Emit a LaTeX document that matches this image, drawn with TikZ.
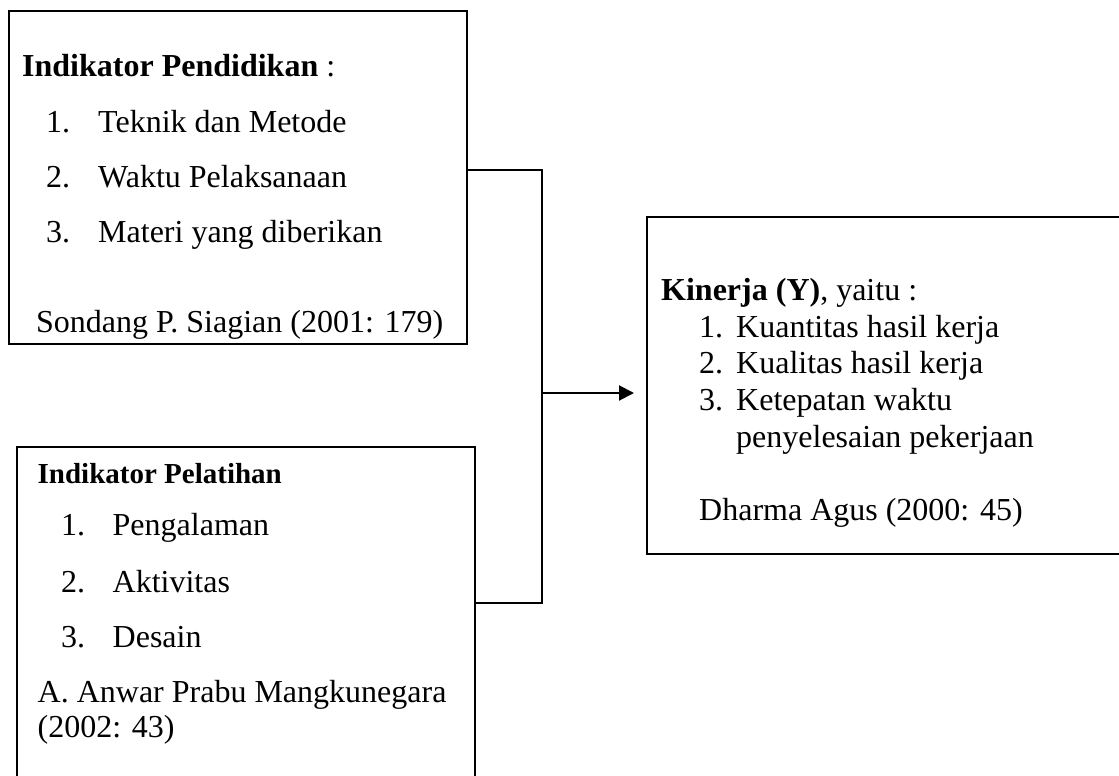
\documentclass[tikz,border=0pt]{standalone}
\usepackage{fontspec}
\setmainfont{Liberation Serif}
\usetikzlibrary{arrows.meta}
\tikzset{
  boxframe/.style={draw, line width=2pt, inner sep=0pt, anchor=north west},
  txt/.style={anchor=base west, inner sep=0pt, font=\fontsize{32}{38}\selectfont},
  headtwo/.style={anchor=base west, inner sep=0pt, font=\fontsize{29}{34}\selectfont\bfseries},
  conn/.style={line width=2pt},
}
\begin{document}
\begin{tikzpicture}[x=1pt,y=-1pt]
\useasboundingbox (0,0) rectangle (1119,776);
\clip (0,0) rectangle (1119,776);
% boxes
\node[boxframe, minimum width=458pt, minimum height=333pt] (box1) at (8,10) {};
\node[boxframe, minimum width=458pt, minimum height=400pt] (box2) at (16,446) {};
\node[boxframe, minimum width=600pt, minimum height=337pt] (box3) at (646,216) {};
% box 1 text
\node[txt] (h1) at (22,77) {\textbf{Indikator Pendidikan} :};
\node[txt] (n11) at (46,132) {1.};
\node[txt] (t11) at (98,132) {Teknik dan Metode};
\node[txt] (n12) at (46,187) {2.};
\node[txt] (t12) at (98,187) {Waktu Pelaksanaan};
\node[txt] (n13) at (46,242) {3.};
\node[txt] (t13) at (98,242) {Materi yang diberikan};
\node[txt] (s1) at (36,332) {Sondang P. Siagian (2001: 179)};
% box 2 text
\node[headtwo] (h2) at (37.5,483) {Indikator Pelatihan};
\node[txt] (n21) at (61,535) {1.};
\node[txt] (t21) at (112.5,535) {Pengalaman};
\node[txt] (n22) at (61,592) {2.};
\node[txt] (t22) at (112.5,592) {Aktivitas};
\node[txt] (n23) at (61,647) {3.};
\node[txt] (t23) at (112.5,647) {Desain};
\node[txt] (s2a) at (37.5,702) {A. Anwar Prabu Mangkunegara};
\node[txt] (s2b) at (37.5,737) {(2002: 43)};
% box 3 text
\node[txt] (h3) at (661,300) {\textbf{Kinerja (Y)}, yaitu :};
\node[txt] (n31) at (699,337) {1.};
\node[txt] (t31) at (736,337) {Kuantitas hasil kerja};
\node[txt] (n32) at (699,373) {2.};
\node[txt] (t32) at (736,373) {Kualitas hasil kerja};
\node[txt] (n33) at (699,410) {3.};
\node[txt] (t33) at (736,410) {Ketepatan waktu};
\node[txt] (t34) at (736,447) {penyelesaian pekerjaan};
\node[txt] (s3) at (699,520) {Dharma Agus (2000: 45)};
% connectors
\coordinate (jt) at (542,170);
\coordinate (jb) at (542,603);
\coordinate (ja) at (542,393);
\draw[conn] (box1.east |- jt) -- (jt) -- (jb) -- (box2.east |- jb);
\draw[conn, -{Triangle[length=15pt,width=15pt]}, shorten >=12pt] (ja) -- (box3.west |- ja);
\end{tikzpicture}
\end{document}
